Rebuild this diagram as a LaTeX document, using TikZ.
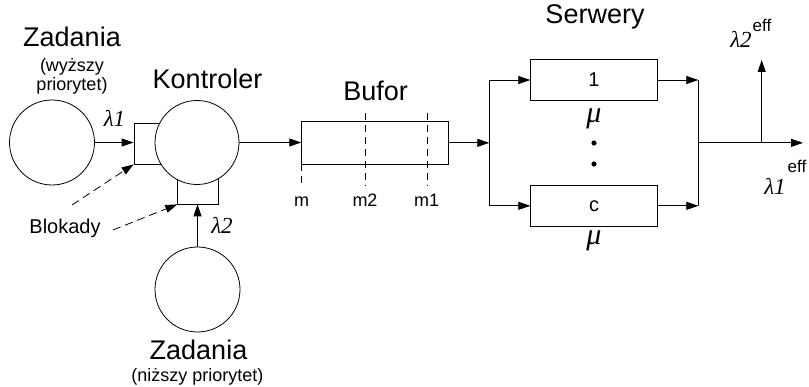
\documentclass[tikz,border=0pt]{standalone}
\usepackage{fontspec}
\setmainfont{Liberation Sans}
\newfontfamily\lamfont{Liberation Serif}
\usetikzlibrary{arrows.meta}
\begin{document}
\begin{tikzpicture}[x=1pt,y=-1pt, line width=0.8pt,
  arr/.style={-{Triangle[length=12pt,width=8pt]}},
  dasharr/.style={dashed, dash pattern=on 8pt off 5pt, -{Triangle[length=12pt,width=8pt]}},
  big/.style={font=\fontsize{27}{29}\selectfont, inner sep=0pt, anchor=base},
  mid/.style={font=\fontsize{20}{22}\selectfont, inner sep=0pt, anchor=base},
  small/.style={font=\fontsize{18}{20}\selectfont, inner sep=0pt, anchor=base},
  num/.style={font=\fontsize{20}{22}\selectfont, inner sep=0pt, anchor=base},
  lam/.style={font=\fontsize{23}{25}\selectfont\lamfont\itshape, inner sep=0pt, anchor=base},
  effl/.style={font=\fontsize{17}{19}\selectfont, inner sep=0pt, anchor=base},
  mul/.style={font=\fontsize{30}{32}\selectfont\lamfont\itshape, inner sep=0pt},
  src/.style={draw, circle, minimum size=85pt, inner sep=0pt, fill=white},
  blk/.style={draw, rectangle, inner sep=0pt},
  mark line/.style={dashed, dash pattern=on 7pt off 5pt},
]
\useasboundingbox (0,0) rectangle (809,387);

% blockade boxes (partly hidden by controller)
\node[blk, minimum width=36pt, minimum height=41pt] (b1) at (152,143.5) {};
\node[blk, minimum width=41pt, minimum height=34pt] (b2) at (198.2,187) {};

% sources and controller
\node[src] (s1) at (52,142.5) {};
\node[src, minimum size=84pt] (ctrl) at (197,142.5) {};
\node[src] (s2) at (197.5,289.5) {};

% buffer
\node[blk, minimum width=146.6pt, minimum height=42.3pt] (buf) at (375,142.85) {};
\coordinate (mA) at (301.7,164);
\coordinate (mAe) at (301.7,186);
\coordinate (m2t) at (365,113);
\coordinate (m2e) at (365,186);
\coordinate (m1t) at (427.3,113);
\coordinate (m1e) at (427.3,186);
\draw[mark line] (mA) -- (mAe);
\draw[mark line] (m2t) -- (m2e);
\draw[mark line] (m1t) -- (m1e);

% servers
\node[blk, minimum width=126.6pt, minimum height=41.4pt] (srv1) at (594,80) {};
\node[blk, minimum width=126.6pt, minimum height=41.7pt] (srvc) at (594,205.85) {};

% connectors
\draw[arr] (s1.east) -- (s1.east -| b1.west);
\draw[arr] (s2.north) -- (s2.north |- b2.south);
\draw[arr] (ctrl.east) -- (ctrl.east -| buf.west);
\coordinate (sp) at (489.3,142.85);
\coordinate (sp1) at (489.3,80);
\coordinate (sp2) at (489.3,205.85);
\draw[arr] (buf.east) -- (sp);
\draw (sp1) -- (sp2);
\draw[arr] (sp1) -- (srv1.west);
\draw[arr] (sp2) -- (srvc.west);
\coordinate (jn1) at (698.3,80);
\coordinate (jn2) at (698.3,205.85);
\coordinate (jm) at (698.3,142.85);
\coordinate (out) at (803,142.85);
\coordinate (br) at (761.7,142.85);
\coordinate (up) at (761.7,60);
\draw[arr] (srv1.east) -- (jn1);
\draw[arr] (srvc.east) -- (jn2);
\draw (jn1) -- (jn2);
\draw[arr] (jm) -- (out);
\draw[arr] (br) -- (up);

% texts
\node[big] (zad1) at (72,46.7) {Zadania};
\node[small] (wy) at (72,71.7) {(wyższy};
\node[small] (pr) at (72,90.7) {priorytet)};
\node[big] (kon) at (207.5,88.3) {Kontroler};
\node[lam] (l1) at (114.5,127) {λ1};
\node[lam] (l2) at (222,233.5) {λ2};
\node[mid] (blok) at (65,233.3) {Blokady};
\node[big] (bufl) at (375.7,100.7) {Bufor};
\node[small] (mlab) at (301.7,206.7) {m};
\node[small] (m2lab) at (365,206.7) {m2};
\node[small] (m1lab) at (426.7,206.7) {m1};
\node[big] (zad2) at (198.5,360) {Zadania};
\node[small] (nz) at (197.5,381.7) {(niższy priorytet)};
\node[big] (ser) at (595,23.3) {Serwery};
\node[num] (one) at (594,86.5) {1};
\node[num] (cc) at (594,211.7) {c};
\node[mul] (mu1) at (594,119) {μ};
\node[mul] (mu2) at (594,241) {μ};
\fill (594,143) circle (2.6pt);
\fill (594,164) circle (2.6pt);
\node[lam] (l2e) at (741,47.3) {λ2};
\node[effl] (e2) at (762,31.7) {eff};
\node[lam] (l1e) at (775,195) {λ1};
\node[effl] (e1) at (797,173) {eff};

% blockade pointers
\coordinate (d1) at (72,205);
\coordinate (d2) at (113,230);
\draw[dasharr] (d1) -- (b1.south west);
\draw[dasharr] (d2) -- (b2.south west);
\end{tikzpicture}
\end{document}
